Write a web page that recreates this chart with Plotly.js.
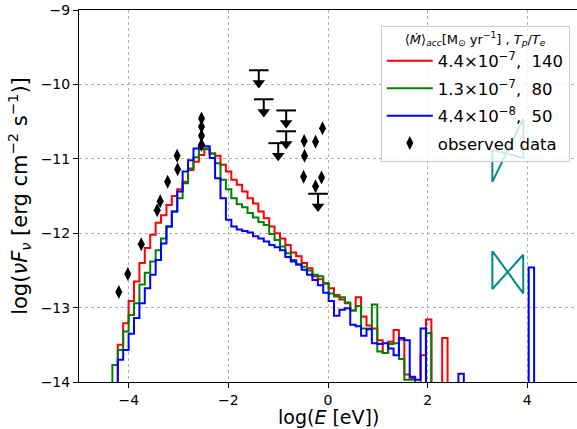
<!DOCTYPE html>
<html><head><meta charset="utf-8">
<script src="https://cdn.plot.ly/plotly-3.0.1.min.js"></script>
<style>html,body{margin:0;padding:0;background:#fff;} #chart{width:577px;height:429px;}</style>
</head><body><div id="chart"></div>
<script>
// log(E [eV]) bin edges of the model spectra
const binEdges = [-4.330,-4.221,-4.113,-4.004,-3.896,-3.787,-3.679,-3.570,-3.461,-3.353,
  -3.244,-3.136,-3.027,-2.919,-2.810,-2.701,-2.593,-2.484,-2.376,-2.267,
  -2.159,-2.050,-1.941,-1.833,-1.724,-1.616,-1.507,-1.399,-1.290,-1.181,
  -1.073,-0.964,-0.856,-0.747,-0.639,-0.530,-0.421,-0.313,-0.204,-0.096,
  0.013,0.121,0.230,0.339,0.447,0.556,0.664,0.773,0.881,0.990,
  1.099,1.207,1.316,1.424,1.533,1.641,1.750,1.859,1.967,2.076,
  2.184,2.293,2.401,2.510,2.619,2.727,2.836,2.944,3.053,3.161,
  3.270,3.379,3.487,3.596,3.704,3.813,3.921,4.030,4.139];

const seriesNames = ['4.4×10<sup>−7</sup>,\u00a0\u00a0140', '1.3×10<sup>−7</sup>,\u00a0\u00a080', '4.4×10<sup>−8</sup>,\u00a0\u00a050'];
const seriesColors = ['#ff0000', '#008000', '#0000ff'];

// log(nu F_nu) per bin (null = no emission in bin)
const fluxRed = [null,-13.50,-13.21,-12.91,-12.65,-12.40,-12.20,-12.02,-11.86,-11.76,
  -11.62,-11.50,-11.41,-11.31,-11.15,-11.04,-10.95,-10.87,-10.93,-10.96,
  -11.08,-11.17,-11.28,-11.35,-11.44,-11.53,-11.60,-11.71,-11.80,-11.91,
  -12.00,-12.07,-12.16,-12.26,-12.31,-12.40,-12.47,-12.58,-12.62,-12.68,
  -12.74,-12.83,-12.89,-12.94,-13.04,-12.86,-13.12,-13.24,-13.28,-13.44,
  -13.61,-13.46,-13.30,-13.43,-13.90,-13.95,null,-13.64,-13.16,null,
  null,-13.41];
const fluxGreen = [-13.77,-13.57,-13.32,-13.10,-12.94,-12.69,-12.53,-12.38,-12.23,-12.07,
  -11.91,-11.71,-11.53,-11.33,-11.13,-10.98,-10.87,-10.86,-10.93,-11.06,
  -11.28,-11.41,-11.53,-11.61,-11.65,-11.73,-11.79,-11.85,-11.89,-12.01,
  -12.09,-12.18,-12.27,-12.36,-12.42,-12.45,-12.50,-12.56,-12.58,-12.67,
  -12.81,-12.85,-12.86,-12.93,-13.04,-12.98,-13.28,-13.28,-12.96,-13.59,
  -13.61,-13.49,-13.48,-13.69,-13.97,-13.97,null,null,-13.34];
const fluxBlue = [null,-13.70,-13.57,-13.35,-13.14,-12.94,-12.74,-12.56,-12.36,-12.14,
  -11.91,-11.71,-11.44,-11.17,-11.02,-10.86,-10.82,-10.83,-10.99,-11.26,
  -11.53,-11.82,-11.91,-11.95,-11.97,-11.99,-12.04,-12.07,-12.11,-12.16,
  -12.19,-12.23,-12.32,-12.38,-12.42,-12.49,-12.56,-12.63,-12.70,-12.80,
  -12.91,-13.11,-13.03,-13.01,-13.23,-13.25,-13.38,-13.29,-13.48,-13.49,
  -13.48,-13.55,-13.64,-13.41,-13.44,-13.93,-13.97,-13.28,null,null,
  null,null,null,null,-13.89,null,null,null,null,null,
  null,null,null,null,null,null,null,-12.46];

// observed data
const obsLogE = [-4.20,-4.02,-3.75,-3.43,-3.37,-3.22,-3.02,-3.03,-2.54,-2.54,-2.54,-2.54,
  -0.48,-0.47,-0.25,-0.11,-0.49,-0.13,-0.25];
const obsLogF = [-12.79,-12.55,-12.15,-11.69,-11.57,-11.31,-11.14,-10.96,-10.46,-10.57,-10.69,-10.81,
  -10.76,-10.96,-10.77,-10.59,-11.24,-11.25,-11.37];

// upper limits
const ulLogE = [-1.39,-1.29,-0.84,-0.84,-1.00,-0.20];
const ulLogF = [-9.81,-10.20,-10.35,-10.63,-10.79,-11.47];

// X-ray bowties: [bottom, top] at the two ends
const bowLogE = [3.30, 3.92];
const bowUpperLeft = [-11.31, -10.88], bowUpperRight = [-10.99, -10.46];
const bowLowerLeft = [-12.75, -12.24], bowLowerRight = [-12.81, -12.29];

const xTitle = 'log(<i>E</i> [eV])';
const yTitle = 'log(<i>νF<sub>ν</sub></i> [erg cm<sup>−2</sup> s<sup>−1</sup>)]';

const FLOOR = -16;
const ARROW = 0.17;

function stepTrace(vals, color, name) {
  const x = [binEdges[0]], y = [FLOOR];
  vals.forEach((v, k) => { x.push(binEdges[k]); y.push(v === null ? FLOOR : v); });
  const n = vals.length;
  x.push(binEdges[n]); y.push(vals[n-1] === null ? FLOOR : vals[n-1]);
  x.push(binEdges[n]); y.push(FLOOR);
  return {type:'scatter', mode:'lines', x, y, name, legendgroup:name,
    line:{shape:'hv', color, width:2}, hoverinfo:'skip'};
}

const traces = [
  stepTrace(fluxRed, seriesColors[0], seriesNames[0]),
  stepTrace(fluxGreen, seriesColors[1], seriesNames[1]),
  stepTrace(fluxBlue, seriesColors[2], seriesNames[2]),
  {type:'scatter', mode:'markers', x: obsLogE, y: obsLogF, name:'observed data', legendgroup:'obs',
   marker:{symbol:'diamond-tall', size:10, color:'#000'}},
];

// upper-limit shafts
const sx = [], sy = [];
ulLogE.forEach((e, i) => { sx.push(e, e, null); sy.push(ulLogF[i], ulLogF[i] - ARROW, null); });
traces.push({type:'scatter', mode:'lines', x:sx, y:sy, showlegend:false, line:{color:'#000', width:2}});
traces.push({type:'scatter', mode:'markers', x:ulLogE, y:ulLogF, showlegend:false,
  marker:{symbol:'line-ew', size:14, line:{color:'#000', width:2}}});
traces.push({type:'scatter', mode:'markers', x:ulLogE, y:ulLogF.map(v => v - ARROW), showlegend:false,
  marker:{symbol:'triangle-down', size:11, color:'#000'}});

function bowtie(left, right) {
  return {type:'scatter', mode:'lines', showlegend:false,
    x:[bowLogE[0], bowLogE[1], bowLogE[1], bowLogE[0], bowLogE[0]],
    y:[left[1], right[0], right[1], left[0], left[1]],
    line:{color:'#008b8b', width:2}};
}
traces.push(bowtie(bowUpperLeft, bowUpperRight));
traces.push(bowtie(bowLowerLeft, bowLowerRight));

const axisCommon = {
  showline:true, linecolor:'#000', linewidth:1, mirror:true,
  ticks:'outside', ticklen:5, tickwidth:1, tickcolor:'#000',
  showgrid:true, gridcolor:'#b0b0b0', griddash:'dot', gridwidth:1,
  zeroline:false, automargin:false, tickfont:{family:'DejaVu Sans', size:14, color:'#000'}
};

const layout = {
  width:577, height:429,
  margin:{l:79, r:0, t:10, b:47, autoexpand:false},
  paper_bgcolor:'#fff', plot_bgcolor:'#fff',
  font:{family:'DejaVu Sans', color:'#000'},
  showlegend:true,
  hovermode:false,
  xaxis: Object.assign({}, axisCommon, {
    range:[-5,5], tickvals:[-4,-2,0,2,4]
  }),
  yaxis: Object.assign({}, axisCommon, {
    range:[-14,-9], tick0:-14, dtick:1,
    title:{text:yTitle, font:{family:'DejaVu Sans', size:21, color:'#000'}}
  }),
  annotations:[{
    text:xTitle, xref:'paper', yref:'paper', x:0.5, y:-0.0954, xanchor:'center', yanchor:'middle',
    showarrow:false, borderpad:0, font:{family:'DejaVu Sans', size:19, color:'#000'}
  }],
  legend:{
    x:0.606, y:0.958, xanchor:'left', yanchor:'top',
    bgcolor:'rgba(255,255,255,0.8)', bordercolor:'#cccccc', borderwidth:1,
    font:{family:'DejaVu Sans', size:16.5, color:'#000'},
    title:{text:'⟨<i>Ṁ</i>⟩<sub><i>acc</i></sub>[M<sub>⊙</sub> yr<sup>−1</sup>] , <i>T<sub>p</sub></i>/<i>T<sub>e</sub></i>', font:{family:'DejaVu Sans', size:13, color:'#000'}, side:'top center'},
    tracegroupgap:3, itemwidth:46
  }
};

Plotly.newPlot('chart', traces, layout, {staticPlot:true, displayModeBar:false});
</script>
</body></html>
